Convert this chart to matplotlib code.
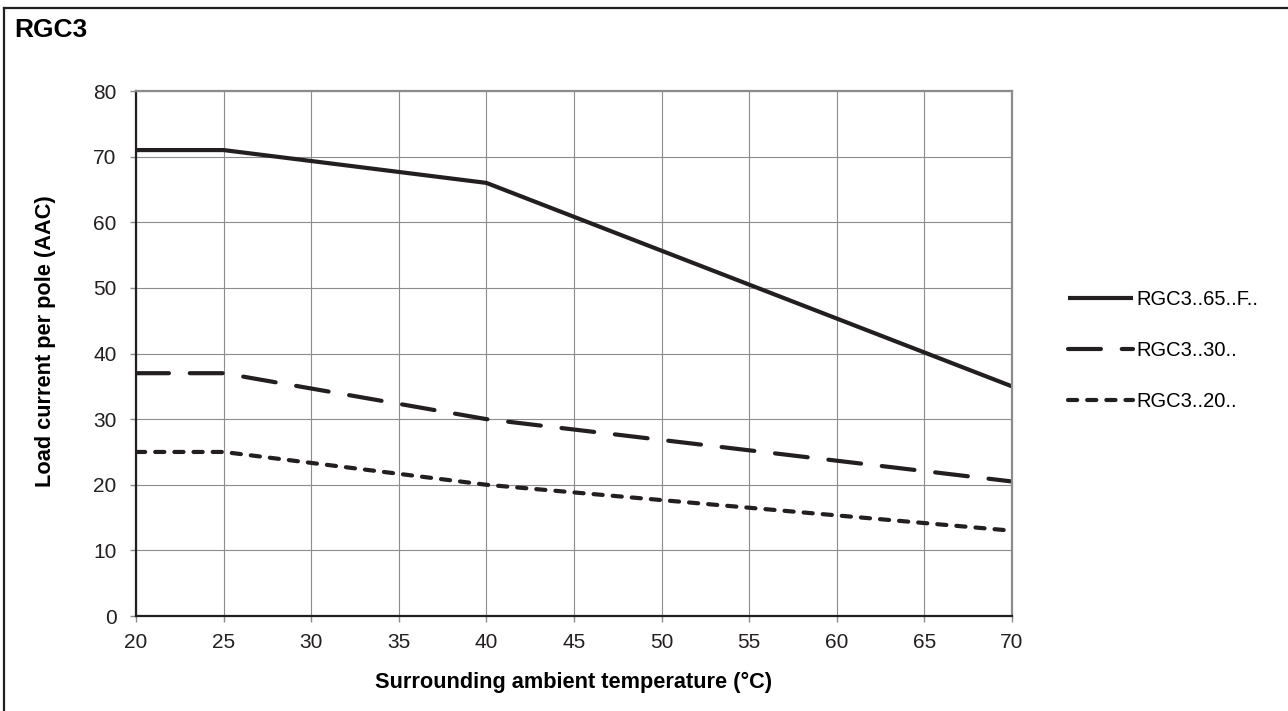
import matplotlib.pyplot as plt
from matplotlib.lines import Line2D

plt.rcParams['font.family'] = ['Liberation Sans', 'DejaVu Sans']

temperatura = [20, 25, 40, 70]
rgc3_65 = [71, 71, 66, 35]
rgc3_30 = [37, 37, 30, 20.5]
rgc3_20 = [25, 25, 20, 13]

series = [
    ("RGC3..65..F..", rgc3_65, "-"),
    ("RGC3..30..", rgc3_30, (0, (7.9, 5.0))),
    ("RGC3..20..", rgc3_20, (0, (2.2, 2.4))),
]

fig = plt.figure(figsize=(12.88, 7.11), dpi=100)
ax = fig.add_axes([0.1056, 0.1336, 0.68, 0.7384])

for nombre, valores, estilo in series:
    ax.plot(temperatura, valores, color="#231f20", linewidth=3.0,
            linestyle=estilo, label=nombre, solid_capstyle="butt",
            dash_capstyle="round")

ax.set_xlim(20, 70)
ax.set_ylim(0, 80)
ax.set_xticks(range(20, 71, 5))
ax.set_yticks(range(0, 81, 10))
ax.grid(True, color="#8c8c8c", linewidth=0.8)
ax.tick_params(axis="both", labelsize=15, colors="#8c8c8c", labelcolor="#231f20",
               length=4.5, width=1)
ax.tick_params(axis="x", pad=8)
ax.tick_params(axis="y", pad=9.5)
for lado in ["top", "right"]:
    ax.spines[lado].set_color("#8c8c8c")
    ax.spines[lado].set_linewidth(1.6)
for lado in ["left", "bottom"]:
    ax.spines[lado].set_color("#231f20")
    ax.spines[lado].set_linewidth(1.6)

ax.set_xlabel("Surrounding ambient temperature (°C)", fontsize=15.7,
              fontweight="bold", va="top")
ax.set_ylabel("Load current per pole (AAC)", fontsize=15.7,
              fontweight="bold")
ax.xaxis.set_label_coords(0.5, -0.107)
ax.yaxis.set_label_coords(-0.091, 0.524)

fig.legend(loc="center left", bbox_to_anchor=(0.8155, 0.507), frameon=False,
           fontsize=14.5, handlelength=3.2, handletextpad=0.15, labelspacing=1.57)

fig.text(0.011, 0.958, "RGC3", fontsize=19, fontweight="bold", va="center")
fig.add_artist(Line2D([0.0031, 1.0], [0.9887, 0.9887], transform=fig.transFigure,
                      color="#231f20", linewidth=1.6))
fig.add_artist(Line2D([0.0031, 0.0031], [0.0, 0.9887], transform=fig.transFigure,
                      color="#231f20", linewidth=1.6))

fig.savefig("out.png", dpi=100)
